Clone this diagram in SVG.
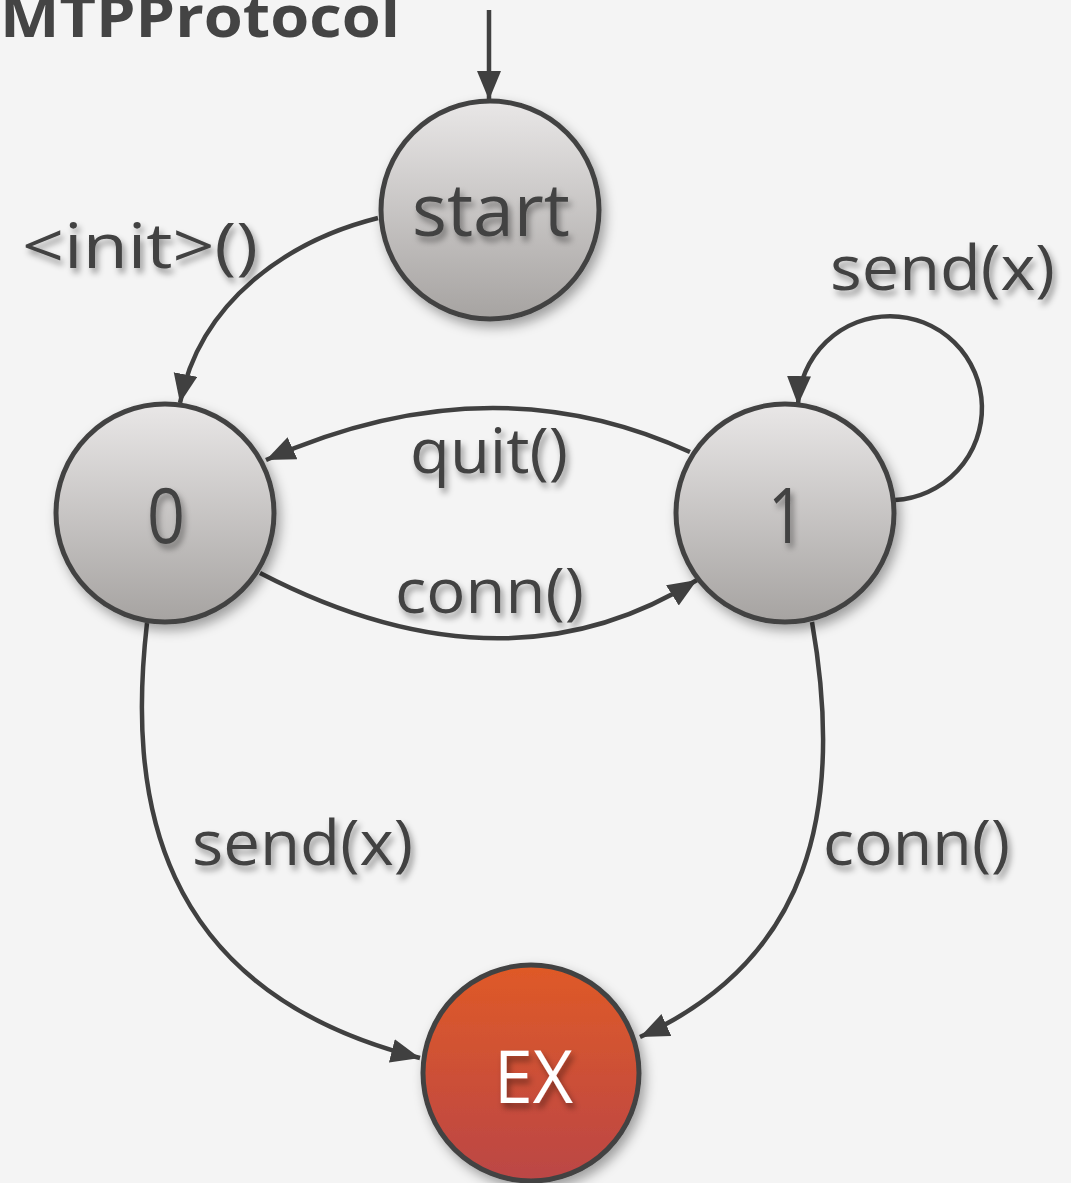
<svg xmlns="http://www.w3.org/2000/svg" width="1071" height="1183" viewBox="0 0 1071 1183">
  <defs>
    <linearGradient id="gray" x1="0" y1="0" x2="0" y2="1">
      <stop offset="0" stop-color="#e9e7e7"/>
      <stop offset="1" stop-color="#a6a3a1"/>
    </linearGradient>
    <linearGradient id="red" x1="0" y1="0" x2="0" y2="1">
      <stop offset="0" stop-color="#df5a27"/>
      <stop offset="1" stop-color="#bb4646"/>
    </linearGradient>
    <filter id="nodeShadow" x="-30%" y="-30%" width="160%" height="160%">
      <feDropShadow dx="4" dy="6" stdDeviation="6" flood-color="#000" flood-opacity="0.35"/>
    </filter>
    <filter id="textShadow" x="-20%" y="-30%" width="140%" height="170%">
      <feDropShadow dx="3" dy="5" stdDeviation="3" flood-color="#000" flood-opacity="0.4"/>
    </filter>
    <marker id="arrow" markerUnits="userSpaceOnUse" markerWidth="32" markerHeight="26" refX="29" refY="12" orient="auto">
      <path d="M0,0 L29,12 L0,24 z" fill="#404040"/>
    </marker>
  </defs>
  <style>
    .state { fill: url(#gray); stroke: #434343; stroke-width: 5; filter: url(#nodeShadow); }
    .exit { fill: url(#red); stroke: #434343; stroke-width: 5; filter: url(#nodeShadow); }
    .edge { fill: none; stroke: #404040; stroke-width: 4.5; marker-end: url(#arrow); }
    .lbl { font-family: "Open Sans", "DejaVu Sans", sans-serif; fill: #434343; filter: url(#textShadow); }
    .title { font-family: "Open Sans", "DejaVu Sans", sans-serif; font-weight: bold; fill: #444; }
  </style>

  <rect x="0" y="0" width="1071" height="1183" fill="#f4f4f4"/>

  <text class="title" x="0" y="37" font-size="58" textLength="400" lengthAdjust="spacingAndGlyphs">MTPProtocol</text>

  <g id="connectors">
    <path class="edge" d="M489,10 L489,100"/>
    <path class="edge" d="M378,218 C 290,240 200,300 180,403"/>
    <path class="edge" d="M690,452 Q 490,360 266,460"/>
    <path class="edge" d="M260,573 Q 505,700 697,580"/>
    <path class="edge" d="M895,500 A 92 92 0 1 0 798,405"/>
    <path class="edge" d="M147,623 C 128,790 150,990 420,1058"/>
    <path class="edge" d="M812,622 C 845,810 810,960 640,1037"/>
    <text class="lbl" x="22" y="268" font-size="62" textLength="236" lengthAdjust="spacingAndGlyphs">&lt;init&gt;()</text>
    <text class="lbl" x="830" y="290" font-size="62" textLength="225" lengthAdjust="spacingAndGlyphs">send(x)</text>
    <text class="lbl" x="410" y="473" font-size="62" textLength="158" lengthAdjust="spacingAndGlyphs">quit()</text>
    <text class="lbl" x="395" y="613" font-size="62" textLength="189" lengthAdjust="spacingAndGlyphs">conn()</text>
    <text class="lbl" x="192" y="865" font-size="62" textLength="221" lengthAdjust="spacingAndGlyphs">send(x)</text>
    <text class="lbl" x="823" y="865" font-size="62" textLength="187" lengthAdjust="spacingAndGlyphs">conn()</text>
  </g>

  <g id="node-start">
    <circle class="state" cx="490" cy="210" r="109"/>
    <text class="lbl" x="412" y="236" font-size="74" textLength="158" lengthAdjust="spacingAndGlyphs">start</text>
  </g>
  <g id="node-0">
    <circle class="state" cx="165" cy="513" r="109"/>
    <text class="lbl" x="147" y="543" font-size="76" textLength="38" lengthAdjust="spacingAndGlyphs">0</text>
  </g>
  <g id="node-1">
    <circle class="state" cx="785" cy="513" r="109"/>
    <text class="lbl" x="768" y="543" font-size="76" textLength="36" lengthAdjust="spacingAndGlyphs">1</text>
  </g>
  <g id="node-ex">
    <circle class="exit" cx="531" cy="1073" r="108"/>
    <text class="lbl" x="494" y="1103" font-size="74" style="fill:#ffffff" textLength="79" lengthAdjust="spacingAndGlyphs">EX</text>
  </g>
</svg>
